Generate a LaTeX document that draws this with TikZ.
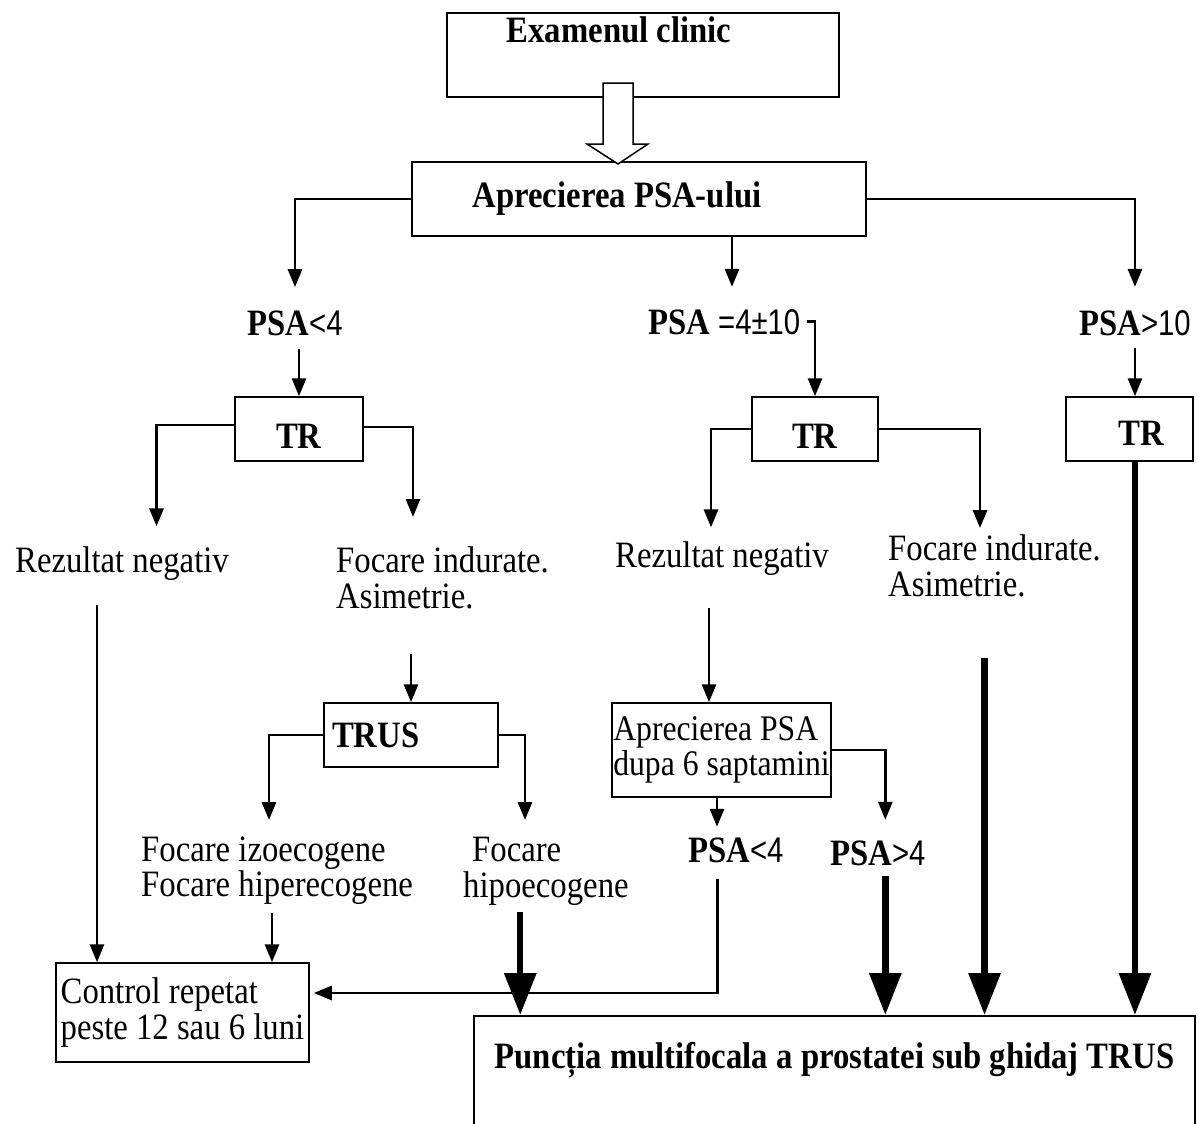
\documentclass[tikz,border=0pt]{standalone}
\usepackage{fontspec}
\setmainfont{Liberation Serif}[FakeStretch=0.88]
\setsansfont{Liberation Sans}[Scale=0.96, FakeStretch=0.82]
\usepackage{tikz}
\usetikzlibrary{arrows.meta,calc}

\begin{document}
\begin{tikzpicture}[x=1pt, y=-1pt, font=\fontsize{37.2}{35.5}\selectfont,
  box/.style={draw, line width=1.5pt, inner sep=0pt},
  lbl/.style={inner sep=0pt},
  arr/.style={line width=2.9pt, -{Triangle[width=14pt,length=18pt]}},
  fat/.style={line width=6.4pt, -{Triangle[width=31pt,length=42pt]}}]
\useasboundingbox (0,0) rectangle (1199,1124);
\clip (0,0) rectangle (1199,1124);

\node[box, minimum width=392pt, minimum height=84pt, text height=22pt, text depth=46pt] (exam) at (643,55) {\textbf{Examenul clinic}\hspace*{48pt}};
\node[box, minimum width=454pt, minimum height=74pt] (psa) at (639,199) {\textbf{Aprecierea PSA-ului}\hspace*{44pt}};
\node[box, minimum width=128pt, minimum height=64pt, text height=38pt, text depth=0pt] (tr1) at (299,429) {\textbf{TR}};
\node[box, minimum width=126pt, minimum height=64pt, text height=38pt, text depth=0pt] (tr2) at (815,429) {\textbf{TR}};
\node[box, minimum width=127pt, minimum height=64pt, text height=32pt, text depth=0pt] (tr3) at (1129.5,429) {\hspace*{24pt}\textbf{TR}};
\node[box, minimum width=174pt, minimum height=64pt, text width=158pt, align=left] (trus) at (411,735) {\textbf{TRUS}};
\node[box, minimum width=219pt, minimum height=94pt, align=left, font=\fontsize{36}{35.5}\selectfont] (apr6) at (721.5,750) {Aprecierea PSA\\dupa 6 saptamini};
\node[box, minimum width=253pt, minimum height=99pt, align=left] (ctrl) at (182.5,1012.5) {Control repetat\\peste 12 sau 6 luni};
\node[box, anchor=north, minimum width=721pt, minimum height=150pt, text height=22pt, text depth=66pt] (punc) at (834.5,1015) {\textbf{Puncția multifocala a prostatei sub ghidaj TRUS}};

\node[lbl, anchor=base] (psa4) at (295,335) {\textbf{PSA}\textsf{<4}};
\node[lbl, anchor=base west] (psamid) at (648,334) {\textbf{PSA} \textsf{=4±10}};
\node[lbl, anchor=base west] (psahi) at (1079,335) {\textbf{PSA}\textsf{>10}};
\node[lbl, anchor=base west] (neg1) at (15,572) {Rezultat negativ};
\node[lbl, anchor=north west, align=left] (foc1) at (336,546.6) {Focare indurate.\\Asimetrie.};
\node[lbl, anchor=base west] (neg2) at (615,567) {Rezultat negativ};
\node[lbl, anchor=north west, align=left] (foc2) at (888,534.6) {Focare indurate.\\Asimetrie.};
\node[lbl, anchor=north west, align=left] (izo) at (141,836.6) {Focare izoecogene\\Focare hiperecogene};
\node[lbl, anchor=north west, align=left] (hipo) at (463,837.4) {\hspace*{9pt}Focare\\hipoecogene};
\node[lbl, anchor=base west] (psa4b) at (688,862) {\textbf{PSA}\textsf{<4}};
\node[lbl, anchor=base west] (psa4c) at (830,865) {\textbf{PSA}\textsf{>4}};

\draw[line width=1.5pt, fill=white] (603,83) -- (603,144) -- (587,144) -- (618,164) -- (648,144) -- (633,144) -- (633,83) -- cycle;

\draw[arr, shorten >=23pt] (psa.west) -| (psa4);
\draw[arr, shorten >=23pt] (psa.east) -| (psahi);
\draw[arr, shorten >=22pt] ($(psa.south)+(93,0)$) -- ($(psa.south |- psamid.north)+(93,0)$);
\draw[arr, shorten <=13pt] (tr1.north |- psa4.south) -- (tr1.north);
\draw[arr] ($(psamid.east -| tr2.north)+(-8,0)$) -| (tr2);
\draw[arr, shorten <=12pt] (psahi.south) -- (psahi.south |- tr3.north);
\draw[arr, shorten >=19.6pt] ($(tr1.west)+(0,-4)$) -| ($(neg1.north)+(34.5,0)$);
\draw[arr, shorten >=29.6pt] ($(tr1.east)+(0,-2)$) -| ($(foc1.north west)+(77,0)$);
\draw[arr, shorten >=13.6pt] (tr2.west) -| ($(neg2.north)+(-11,0)$);
\draw[arr, shorten >=6.6pt] (tr2.east) -| ($(foc2.north west)+(92,0)$);
\draw[arr] ($(ctrl.north |- neg1.south)+(-85.5,25)$) -- ($(ctrl.north)+(-85.5,0)$);
\draw[arr, shorten <=45.5pt] (trus.north |- foc1.south) -- (trus.north);
\draw[arr, shorten >=16.6pt] (trus.west) -| ($(izo.north west)+(128,0)$);
\draw[arr, shorten >=17.4pt] (trus.east) -| ($(hipo.north west)+(62,0)$);
\draw[arr] ($(ctrl.north |- izo.south)+(89.5,7.4)$) -- ($(ctrl.north)+(89.5,0)$);
\draw[arr] ($(apr6.north |- neg2.south)+(-12.5,33)$) -- ($(apr6.north)+(-12.5,0)$);
\draw[arr, shorten >=20.4pt] (apr6.east) -| ($(psa4c.north)+(7.5,0)$);
\draw[arr, shorten >=10.4pt] ($(apr6.south)+(-4.5,0)$) -- ($(apr6.south |- psa4b.north)+(-4.5,0)$);
\draw[arr] ($(psa4b.south)+(-18.5,16)$) |- ($(ctrl.east)+(4,-19.5)$);

\draw[fat] (tr3.south -| psahi.south) -- (psahi.south |- punc.north);
\draw[fat] ($(punc.north west |- hipo.south)+(47,6.4)$) -- ($(punc.north west)+(47,0)$);
\draw[fat] ($(psa4c.south)+(7.5,10)$) -- ($(psa4c.south |- punc.north)+(7.5,0)$);
\draw[fat] ($(foc2.south)+(-10,61.5)$) -- ($(foc2.south |- punc.north)+(-10,0)$);
\end{tikzpicture}
\end{document}
